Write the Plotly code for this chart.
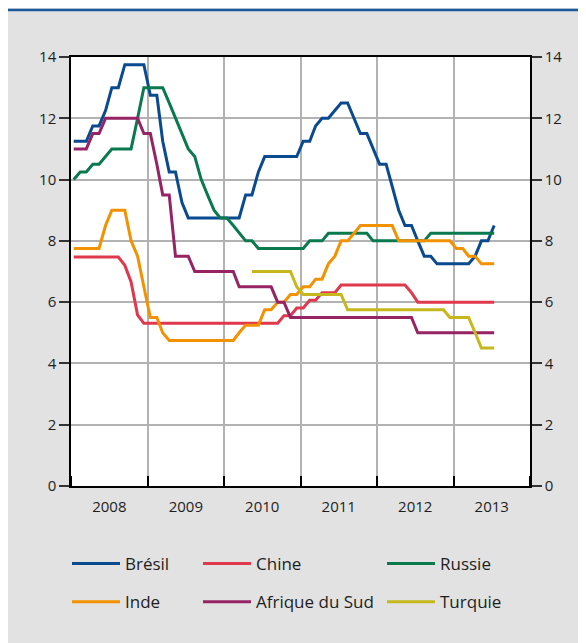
import pandas as pd
import plotly.graph_objects as go

# monthly policy rates, Jan 2008 .. Jul 2013 (67 months)
months = pd.date_range("2008-01-01", "2013-07-01", freq="MS") + pd.Timedelta(days=13)

bresil = [11.25, 11.25, 11.25, 11.75, 11.75, 12.25, 13.0, 13.0, 13.75, 13.75, 13.75, 13.75,
          12.75, 12.75, 11.25, 10.25, 10.25, 9.25, 8.75, 8.75, 8.75, 8.75, 8.75, 8.75,
          8.75, 8.75, 8.75, 9.5, 9.5, 10.25, 10.75, 10.75, 10.75, 10.75, 10.75, 10.75,
          11.25, 11.25, 11.75, 12.0, 12.0, 12.25, 12.5, 12.5, 12.0, 11.5, 11.5, 11.0,
          10.5, 10.5, 9.75, 9.0, 8.5, 8.5, 8.0, 7.5, 7.5, 7.25, 7.25, 7.25,
          7.25, 7.25, 7.25, 7.5, 8.0, 8.0, 8.5]
chine = [7.47, 7.47, 7.47, 7.47, 7.47, 7.47, 7.47, 7.47, 7.20, 6.66, 5.58, 5.31,
         5.31, 5.31, 5.31, 5.31, 5.31, 5.31, 5.31, 5.31, 5.31, 5.31, 5.31, 5.31,
         5.31, 5.31, 5.31, 5.31, 5.31, 5.31, 5.31, 5.31, 5.31, 5.56, 5.56, 5.81,
         5.81, 6.06, 6.06, 6.31, 6.31, 6.31, 6.56, 6.56, 6.56, 6.56, 6.56, 6.56,
         6.56, 6.56, 6.56, 6.56, 6.56, 6.31, 6.0, 6.0, 6.0, 6.0, 6.0, 6.0,
         6.0, 6.0, 6.0, 6.0, 6.0, 6.0, 6.0]
russie = [10.0, 10.25, 10.25, 10.5, 10.5, 10.75, 11.0, 11.0, 11.0, 11.0, 12.0, 13.0,
          13.0, 13.0, 13.0, 12.5, 12.0, 11.5, 11.0, 10.75, 10.0, 9.5, 9.0, 8.75,
          8.75, 8.5, 8.25, 8.0, 8.0, 7.75, 7.75, 7.75, 7.75, 7.75, 7.75, 7.75,
          7.75, 8.0, 8.0, 8.0, 8.25, 8.25, 8.25, 8.25, 8.25, 8.25, 8.25, 8.0,
          8.0, 8.0, 8.0, 8.0, 8.0, 8.0, 8.0, 8.0, 8.25, 8.25, 8.25, 8.25,
          8.25, 8.25, 8.25, 8.25, 8.25, 8.25, 8.25]
inde = [7.75, 7.75, 7.75, 7.75, 7.75, 8.5, 9.0, 9.0, 9.0, 8.0, 7.5, 6.5,
        5.5, 5.5, 5.0, 4.75, 4.75, 4.75, 4.75, 4.75, 4.75, 4.75, 4.75, 4.75,
        4.75, 4.75, 5.0, 5.25, 5.25, 5.25, 5.75, 5.75, 6.0, 6.0, 6.25, 6.25,
        6.5, 6.5, 6.75, 6.75, 7.25, 7.5, 8.0, 8.0, 8.25, 8.5, 8.5, 8.5,
        8.5, 8.5, 8.5, 8.0, 8.0, 8.0, 8.0, 8.0, 8.0, 8.0, 8.0, 8.0,
        7.75, 7.75, 7.5, 7.5, 7.25, 7.25, 7.25]
afrique_sud = [11.0, 11.0, 11.0, 11.5, 11.5, 12.0, 12.0, 12.0, 12.0, 12.0, 12.0, 11.5,
               11.5, 10.5, 9.5, 9.5, 7.5, 7.5, 7.5, 7.0, 7.0, 7.0, 7.0, 7.0,
               7.0, 7.0, 6.5, 6.5, 6.5, 6.5, 6.5, 6.5, 6.0, 6.0, 5.5, 5.5,
               5.5, 5.5, 5.5, 5.5, 5.5, 5.5, 5.5, 5.5, 5.5, 5.5, 5.5, 5.5,
               5.5, 5.5, 5.5, 5.5, 5.5, 5.5, 5.0, 5.0, 5.0, 5.0, 5.0, 5.0,
               5.0, 5.0, 5.0, 5.0, 5.0, 5.0, 5.0]
turquie = [None] * 28 + [7.0, 7.0, 7.0, 7.0, 7.0, 7.0, 7.0, 6.5,
                         6.25, 6.25, 6.25, 6.25, 6.25, 6.25, 6.25, 5.75, 5.75, 5.75, 5.75, 5.75,
                         5.75, 5.75, 5.75, 5.75, 5.75, 5.75, 5.75, 5.75, 5.75, 5.75, 5.75, 5.5,
                         5.5, 5.5, 5.5, 5.0, 4.5, 4.5, 4.5]

y_ticks = [0, 2, 4, 6, 8, 10, 12, 14]

BG = "#e2e2e2"
GRID = "#b2b2b2"
TEXT = "#1e1e1e"
FONT = "Open Sans, Noto Sans, sans-serif"

# (name, values, colour, legend column)
series = [
    ("Brésil", bresil, "#0a4a8f", "legend"),
    ("Chine", chine, "#e0394e", "legend2"),
    ("Russie", russie, "#0a7a4e", "legend3"),
    ("Inde", inde, "#f39200", "legend"),
    ("Afrique du Sud", afrique_sud, "#962464", "legend2"),
    ("Turquie", turquie, "#c6b81c", "legend3"),
]

fig = go.Figure()
for name, vals, col, leg in series:
    fig.add_trace(go.Scatter(
        x=months, y=vals, name=name, mode="lines",
        line=dict(color=col, width=3), legend=leg, legendgroup=name,
        hovertemplate=name + ": %{y:.2f}<extra></extra>",
    ))
# carrier for the right-hand axis
fig.add_trace(go.Scatter(x=months, y=bresil, yaxis="y2", mode="lines",
                         line=dict(width=0), showlegend=False, hoverinfo="skip"))

# page has an 8px body margin, so the figure sits at (8, 8)
W, H = 586, 643
L, R, T, B = 63, 64, 49, 165
pw, ph = W - L - R, H - T - B


def px(x):
    return (x - L) / pw


def py(y):
    return (H - B - y) / ph


leg_common = dict(bgcolor="rgba(0,0,0,0)", font=dict(size=17, color=TEXT, family=FONT),
                  tracegroupgap=13, itemwidth=48, yanchor="top", xanchor="left",
                  y=py(538))

fig.update_layout(
    width=W, height=H,
    margin=dict(l=L, r=R, t=T, b=B),
    paper_bgcolor=BG, plot_bgcolor="white",
    font=dict(family=FONT, color=TEXT, size=15),
    legend=dict(x=px(59), **leg_common),
    legend2=dict(x=px(190), **leg_common),
    legend3=dict(x=px(374), **leg_common),
    xaxis=dict(
        type="date", range=["2008-01-01", "2014-01-01"],
        tick0="2008-01-01", dtick="M12", tickformat="%Y", ticklabelmode="period",
        ticks="inside", ticklen=10, tickwidth=1.5, tickcolor="black",
        showgrid=True, gridcolor=GRID, gridwidth=1.5,
        showline=True, linecolor="black", linewidth=1.5, mirror=True,
        ticklabelstandoff=6, tickfont=dict(size=15, color=TEXT),
    ),
    yaxis=dict(
        range=[0, 14], tickvals=y_ticks,
        ticks="outside", ticklen=10, tickwidth=1.5, tickcolor="#333",
        showgrid=True, gridcolor=GRID, gridwidth=1.5, zeroline=False,
        showline=True, linecolor="black", linewidth=1.5, mirror=True,
        tickfont=dict(size=15, color=TEXT),
    ),
    yaxis2=dict(
        range=[0, 14], tickvals=y_ticks, overlaying="y", side="right",
        ticks="outside", ticklen=10, tickwidth=1.5, tickcolor="#333",
        showgrid=False, zeroline=False,
        showline=True, linecolor="black", linewidth=1.5,
        tickfont=dict(size=15, color=TEXT),
    ),
    shapes=[
        dict(type="line", xref="paper", yref="paper", x0=px(0), x1=px(W), y0=py(2), y1=py(2),
             line=dict(color="#1d5a9c", width=2.5)),
    ],
)

fig.write_html("out.html")
